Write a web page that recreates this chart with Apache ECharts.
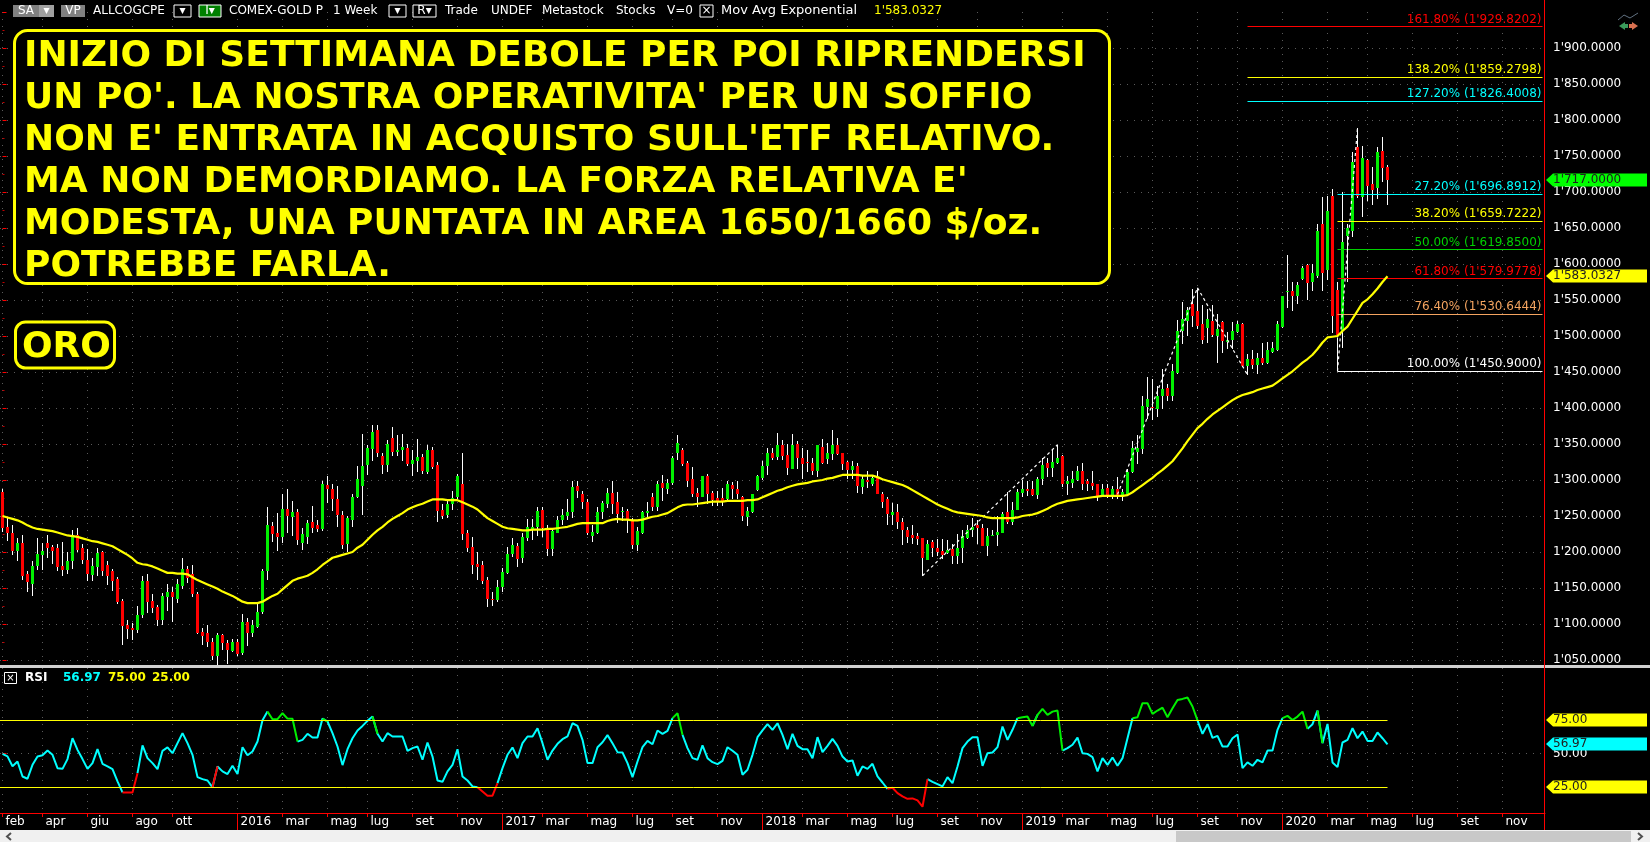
<!DOCTYPE html>
<html>
<head>
<meta charset="utf-8">
<title>ORO</title>
<script src="https://cdn.jsdelivr.net/npm/echarts@6/dist/echarts.min.js"></script>
<style>
  html, body { margin: 0; padding: 0; background: #000; overflow: hidden; }
  #chart { width: 1650px; height: 842px; }
</style>
</head>
<body>
<div id="chart"></div>
<script>
// weekly bars: [open, close, low, high]
const candles = [
  [1283,1233,1227,1287],[1235,1227,1215,1248],[1227,1202,1196,1237],[1202,1213,1188,1220],[1213,1167,1160,1223],
  [1169,1158,1145,1174],[1156,1181,1139,1188],[1181,1197,1176,1220],[1196,1201,1176,1213],[1213,1206,1192,1224],
  [1207,1202,1183,1210],[1205,1179,1173,1211],[1180,1175,1167,1214],[1175,1187,1169,1200],[1188,1223,1176,1230],
  [1223,1203,1200,1233],[1205,1189,1183,1211],[1189,1169,1160,1204],[1168,1181,1160,1192],[1179,1199,1167,1206],
  [1200,1173,1166,1201],[1182,1166,1155,1188],[1173,1160,1145,1176],[1162,1130,1128,1165],[1132,1097,1071,1135],
  [1098,1093,1079,1105],[1095,1092,1078,1102],[1092,1113,1087,1125],[1112,1160,1108,1167],[1160,1131,1115,1169],
  [1132,1122,1115,1142],[1123,1106,1097,1126],[1106,1139,1099,1143],[1137,1145,1118,1156],[1145,1137,1102,1151],
  [1135,1156,1129,1162],[1153,1177,1149,1192],[1176,1164,1158,1181],[1169,1141,1137,1182],[1141,1087,1086,1144],
  [1089,1083,1071,1094],[1088,1075,1068,1098],[1075,1055,1050,1081],[1055,1085,1044,1088],[1085,1073,1064,1086],
  [1073,1064,1045,1078],[1063,1075,1061,1079],[1075,1059,1055,1079],[1060,1103,1057,1114],[1103,1087,1070,1109],
  [1088,1098,1081,1105],[1096,1117,1095,1128],[1116,1174,1114,1176],[1173,1238,1162,1263],[1236,1225,1213,1241],
  [1227,1221,1201,1254],[1221,1260,1213,1281],[1260,1250,1226,1287],[1249,1256,1223,1271],[1255,1216,1210,1260],
  [1213,1225,1204,1234],[1221,1240,1211,1244],[1242,1234,1227,1264],[1237,1232,1227,1244],[1232,1294,1230,1299],
  [1293,1288,1269,1306],[1287,1273,1257,1294],[1273,1252,1234,1291],[1252,1210,1204,1257],[1211,1247,1200,1250],
  [1244,1277,1235,1281],[1277,1301,1275,1319],[1292,1319,1252,1364],[1321,1345,1307,1349],[1343,1367,1327,1377],
  [1369,1337,1332,1377],[1334,1321,1309,1338],[1321,1350,1311,1355],[1358,1339,1334,1374],[1339,1342,1334,1363],
  [1342,1346,1327,1364],[1344,1322,1319,1350],[1322,1328,1305,1341],[1327,1332,1311,1357],[1332,1312,1308,1336],
  [1311,1341,1308,1348],[1341,1318,1315,1346],[1321,1257,1242,1325],[1258,1250,1246,1267],[1251,1267,1248,1274],
  [1267,1275,1258,1285],[1276,1305,1274,1309],[1294,1225,1217,1338],[1227,1206,1200,1230],[1207,1182,1169,1221],
  [1183,1179,1161,1200],[1182,1160,1156,1188],[1161,1135,1123,1165],[1135,1134,1125,1144],[1134,1152,1131,1161],
  [1151,1172,1145,1178],[1171,1197,1169,1207],[1197,1210,1192,1219],[1208,1190,1179,1213],[1191,1221,1185,1227],
  [1220,1235,1216,1246],[1230,1235,1217,1246],[1235,1257,1223,1263],[1259,1234,1221,1263],[1234,1204,1194,1237],
  [1204,1229,1195,1232],[1227,1244,1226,1250],[1244,1252,1238,1260],[1250,1256,1244,1273],[1255,1290,1247,1299],
  [1292,1285,1274,1298],[1280,1269,1260,1285],[1270,1226,1224,1274],[1222,1228,1213,1237],[1227,1256,1226,1263],
  [1256,1268,1246,1271],[1266,1282,1261,1289],[1282,1267,1253,1299],[1270,1253,1240,1283],[1255,1257,1243,1262],
  [1257,1244,1227,1260],[1244,1210,1204,1247],[1210,1229,1202,1235],[1226,1255,1225,1257],[1254,1257,1245,1269],
  [1277,1263,1257,1282],[1263,1294,1256,1298],[1296,1289,1271,1307],[1288,1296,1280,1301],[1296,1330,1294,1334],
  [1338,1351,1328,1363],[1342,1322,1319,1344],[1324,1299,1291,1327],[1301,1281,1276,1318],[1282,1277,1262,1289],
  [1277,1306,1277,1306],[1306,1281,1267,1308],[1282,1272,1264,1285],[1275,1271,1264,1285],[1275,1271,1264,1289],
  [1273,1294,1272,1298],[1293,1287,1274,1297],[1288,1281,1274,1299],[1277,1250,1243,1278],[1248,1257,1237,1263],
  [1256,1280,1255,1281],[1286,1305,1285,1307],[1303,1320,1301,1327],[1320,1338,1307,1344],[1337,1330,1327,1344],
  [1332,1349,1327,1365],[1349,1334,1328,1356],[1335,1317,1307,1350],[1315,1349,1315,1364],[1350,1330,1315,1354],
  [1331,1322,1302,1345],[1325,1323,1311,1342],[1324,1313,1307,1331],[1312,1348,1305,1349],[1346,1324,1322,1357],
  [1329,1337,1322,1351],[1336,1349,1328,1370],[1349,1336,1334,1358],[1337,1322,1314,1337],[1325,1314,1301,1326],
  [1314,1319,1301,1326],[1320,1291,1281,1323],[1290,1301,1280,1307],[1300,1297,1289,1312],[1294,1303,1291,1305],
  [1304,1281,1280,1312],[1281,1270,1261,1283],[1273,1253,1237,1276],[1252,1256,1237,1268],[1256,1241,1232,1267],
  [1241,1231,1209,1247],[1231,1221,1213,1235],[1223,1220,1212,1238],[1222,1218,1211,1227],[1219,1191,1167,1220],
  [1189,1211,1188,1216],[1214,1206,1193,1216],[1206,1200,1194,1218],[1201,1196,1190,1218],[1199,1203,1196,1216],
  [1204,1194,1183,1211],[1194,1206,1184,1225],[1205,1222,1184,1230],[1220,1230,1218,1237],[1230,1235,1221,1247],
  [1237,1233,1211,1244],[1234,1209,1208,1239],[1208,1222,1195,1234],[1223,1224,1221,1230],[1223,1228,1209,1250],
  [1227,1253,1226,1255],[1256,1241,1238,1283],[1241,1259,1238,1270],[1259,1284,1258,1287],[1282,1287,1277,1300],
  [1288,1285,1278,1299],[1288,1279,1278,1299],[1279,1302,1274,1304],[1301,1321,1293,1331],[1323,1317,1305,1331],
  [1317,1325,1304,1341],[1324,1331,1323,1349],[1333,1294,1290,1335],[1294,1299,1280,1306],[1296,1302,1290,1313],
  [1300,1313,1299,1320],[1313,1295,1286,1324],[1298,1295,1284,1301],[1296,1292,1286,1313],[1294,1277,1271,1294],
  [1278,1288,1276,1294],[1289,1278,1274,1294],[1279,1287,1274,1292],[1288,1278,1274,1304],[1276,1284,1271,1287],
  [1281,1311,1280,1315],[1311,1345,1309,1354],[1339,1345,1322,1362],[1343,1403,1336,1416],[1402,1413,1385,1443],
  [1402,1401,1383,1440],[1399,1417,1387,1430],[1416,1427,1399,1454],[1428,1417,1410,1433],[1417,1452,1410,1461],
  [1449,1507,1447,1522],[1507,1524,1488,1547],[1521,1536,1500,1540],[1544,1528,1512,1565],[1535,1514,1510,1567],
  [1517,1495,1489,1543],[1511,1524,1490,1537],[1521,1502,1499,1543],[1500,1510,1463,1531],[1519,1493,1477,1521],
  [1491,1494,1482,1505],[1495,1507,1482,1520],[1506,1517,1505,1521],[1517,1459,1457,1518],[1459,1468,1446,1475],
  [1468,1460,1454,1480],[1460,1470,1448,1477],[1470,1463,1459,1490],[1463,1481,1461,1491],[1478,1483,1476,1491],
  [1481,1516,1480,1521],[1513,1555,1512,1556],[1562,1563,1539,1613],[1563,1556,1535,1575],[1556,1571,1544,1575],
  [1579,1594,1577,1597],[1598,1573,1550,1600],[1575,1587,1563,1600],[1584,1646,1581,1656],[1656,1587,1563,1693],
  [1592,1674,1577,1694],[1694,1528,1504,1704],[1564,1501,1498,1575],[1507,1631,1484,1700],[1639,1650,1575,1656],
  [1646,1741,1637,1755],[1762,1694,1692,1789],[1693,1747,1665,1764],[1745,1709,1688,1746],[1711,1703,1682,1735],
  [1705,1755,1690,1762],[1757,1734,1714,1776],[1735,1717,1682,1738]
]

// Mov Avg Exponential
const maValues = [
  1250,1248,1246,1244,1241,1237,1234,1232,1231,1230,1229,1227,1225,1223,1222,1221,1219,1217,1215,1214,
  1212,1210,1208,1204,1200,1196,1191,1185,1183,1182,1180,1177,1174,1171,1171,1170,1170,1169,1165,1161,
  1158,1155,1152,1149,1145,1142,1139,1135,1131,1129,1129,1129,1131,1135,1139,1142,1148,1154,1160,1163,
  1165,1167,1171,1176,1182,1187,1192,1194,1196,1198,1200,1206,1210,1217,1224,1230,1235,1241,1246,1250,
  1254,1259,1262,1265,1267,1270,1273,1273,1273,1272,1272,1272,1269,1266,1263,1259,1253,1247,1243,1239,
  1235,1233,1232,1231,1230,1230,1231,1231,1231,1232,1232,1233,1234,1235,1237,1239,1240,1240,1240,1240,
  1240,1243,1245,1246,1245,1245,1244,1244,1245,1247,1249,1250,1252,1254,1258,1262,1265,1266,1266,1267,
  1268,1269,1270,1270,1270,1271,1271,1271,1271,1272,1272,1273,1276,1279,1282,1285,1287,1290,1292,1294,
  1295,1296,1298,1299,1300,1302,1303,1305,1307,1307,1307,1307,1306,1306,1306,1304,1301,1299,1297,1295,
  1293,1290,1286,1282,1278,1274,1270,1266,1263,1260,1257,1255,1254,1253,1252,1251,1250,1248,1247,1247,
  1247,1247,1247,1248,1250,1251,1252,1254,1257,1260,1264,1267,1269,1271,1272,1273,1274,1275,1276,1277,
  1278,1278,1278,1278,1278,1279,1283,1288,1293,1298,1303,1309,1314,1320,1326,1335,1344,1354,1363,1372,
  1378,1385,1391,1396,1401,1406,1411,1415,1418,1420,1422,1425,1427,1429,1431,1436,1441,1446,1451,1457,
  1463,1468,1474,1482,1491,1498,1499,1500,1507,1513,1524,1535,1546,1551,1558,1566,1575,1583.0327
]

const rsiValues = [
  49.8,47.9,40.6,44.1,32.9,31.2,41.6,47.9,48.8,52.3, 49.1,39.1,38.6,45.9,61.5,52.8,45.9,38.6,42.9,53.3,
  42.4,40.4,38.4,29.2,21,21,21,35.4,56.1,46.6, 42.9,38.4,52.1,54.6,50.3,57.8,65.3,57.8,49.1,32.4,
  30.9,29.9,24.8,40.4,36.7,34.7,40.9,34.7,54.8,48.8, 51.6,59,74.9,81.4,75.7,75.7,80.2,76.2,76,59,
  60.3,64.8,62,62,76.2,74,65.3,55.3,41.4,53.3, 61.5,67.3,70.7,74.5,77.7,64.8,59,65.3,62.8,62.8,
  62.8,52.1,54.1,55.3,45.4,58.3,47.8,29.9,28.9,36.7, 41.6,53.3,32.9,29.9,25.5,24.9,21.7,18.5,18.5,27.9,
  39.1,49.1,54.6,46.6,57.8,62.8,62.8,69,57.8,45.4, 52.3,57.3,60.8,62.8,72.7,70.7,60.3,42.9,42.9,54.8,
  58.5,63.8,57.8,51.1,50.8,42.9,32.4,44.1,54.8,59.5, 57,67.3,64.8,67,76.5,80.2,64,54.1,46.6,45.4,
  56.1,46.6,43.6,42.1,44.6,54.8,52.1,49.1,34.2,37.9, 49.1,62.3,67.3,72,67.8,72.7,64,53.3,64.8,55.8,
  53.3,53.3,46.6,62.3,51.1,55.8,61,55.8,47.8,44.1, 44.9,33.4,40.4,38.6,42.4,32.9,28.4,23.7,24.5,20.5,
  18,16.2,16.5,15,10.3,30.9,28.9,27.2,25.5,32.4, 27.9,40.4,54.1,59,62.3,62.3,40.9,50.3,50.8,54.8,
  70.2,60.3,67.8,76.5,77.2,77.7,70.7,79,83.4,79, 81.4,82.2,52.3,54.1,56.6,62,50.3,49.8,47.4,36.7,
  46.6,41.6,47.1,40.9,46.6,61.5,76.5,77.2,87.7,87.7, 79.7,82.2,84.4,77.2,83.9,90.1,90.9,91.9,85.2,74.9,
  64.8,72,61.8,63.3,55.3,55.3,61.5,64.3,39.1,43.4, 40.9,45.4,43.4,52.3,52.3,67.8,76.5,78.2,75.1,77.7,
  81.4,68.5,72,82.2,57.8,72.2,43.4,39.9,58.3,60.3, 69,61.5,66.5,59.5,59.5,65.8,61.5,56.97
]

// week index of each tick on the time axis
const monthTicks = [0,8,17,26,34,47,56,65,73,82,91,100,108,117,126,134,143,152,160,169,178,187,195,204,212,221,230,239,247,256,265,273,282,291,300]
const monthLabels = ['feb','apr','giu','ago','ott','2016','mar','mag','lug','set','nov','2017','mar','mag','lug','set','nov','2018','mar','mag','lug','set','nov','2019','mar','mag','lug','set','nov','2020','mar','mag','lug','set','nov']
const yearTicks = [47,100,152,204,256]

const fibPercents = ['161.80%','138.20%','127.20%','27.20%','38.20%','50.00%','61.80%','76.40%','100.00%']
const fibValues = [1929.8202,1859.2798,1826.4008,1696.8912,1659.7222,1619.85,1579.9778,1530.6444,1450.9]
const fibStart = [249,249,249,267,267,267,267,267,267]
const fibColors = ['#ff0000','#ffff00','#00ffff','#00ffff','#ffff00','#00d000','#ff0000','#f4a460','#ffffff']

// dashed swing lines: [from week, from price, to week, to price]
const swingLines = [
  [184,1167,211,1349],
  [223,1280,239,1567],
  [239,1567,249,1446],
  [267,1451,271,1789]
]

const noteLines = [
  'INIZIO DI SETTIMANA DEBOLE PER POI RIPRENDERSI',
  "UN PO'. LA NOSTRA OPERATIVITA' PER UN SOFFIO",
  "NON E' ENTRATA IN ACQUISTO SULL'ETF RELATIVO.",
  "MA NON DEMORDIAMO. LA FORZA RELATIVA E'",
  'MODESTA, UNA PUNTATA IN AREA 1650/1660 $/oz.',
  'POTREBBE FARLA.'
]

const FONT = '"DejaVu Sans", sans-serif'
const UP = '#00f000'
const DOWN = '#ff0000'
const GRID_DOTS = { color: '#5a5a5a', width: 1, type: [1, 6] }

// price with the apostrophe thousands mark used by the platform
function fmtPrice(v) {
  const s = v.toFixed(4)
  return s.length >= 9 ? s.slice(0, s.length - 8) + "'" + s.slice(s.length - 8) : s
}

function renderCandle(params, api) {
  const i = api.value(0)
  const open = api.coord([i, api.value(1)])
  const close = api.coord([i, api.value(2)])
  const low = api.coord([i, api.value(3)])
  const high = api.coord([i, api.value(4)])
  const x = Math.floor(open[0])
  const top = Math.round(Math.min(open[1], close[1]))
  const bottom = Math.round(Math.max(open[1], close[1]))
  const isUp = api.value(2) >= api.value(1)
  return {
    type: 'group',
    children: [
      { type: 'rect', shape: { x: x, y: Math.round(high[1]), width: 1, height: Math.round(low[1] - high[1]) }, style: { fill: '#ffffff' } },
      { type: 'rect', shape: { x: x - 1, y: top, width: 3, height: Math.max(bottom - top, 1) }, style: { fill: isUp ? UP : DOWN } }
    ]
  }
}

// the RSI line changes colour by the zone of each segment's first point
function rsiZone(band) {
  const out = rsiValues.map(() => null)
  for (let i = 0; i < rsiValues.length - 1; i++) {
    const v = rsiValues[i]
    const zone = v > 75 ? 'high' : v < 25 ? 'low' : 'mid'
    if (zone === band) {
      out[i] = [i, v]
      out[i + 1] = [i + 1, rsiValues[i + 1]]
    }
  }
  return out
}

function rsiSeries(band, color) {
  return {
    type: 'line', xAxisIndex: 1, yAxisIndex: 1, data: rsiZone(band), showSymbol: false,
    connectNulls: false, lineStyle: { color: color, width: 2 }, silent: true, z: 4
  }
}

const fibMarks = fibValues.map((v, i) => [
  {
    coord: [fibStart[i], v],
    lineStyle: { color: fibColors[i], width: 1, type: 'solid' },
    label: {
      show: true, position: 'insideEndTop', distance: 1, color: fibColors[i],
      fontFamily: FONT, fontSize: 12, formatter: fibPercents[i] + ' (' + fmtPrice(v) + ')'
    }
  },
  { coord: [308, v] }
])
const swingMarks = swingLines.map(s => [
  { coord: [s[0], s[1]], lineStyle: { color: '#ffffff', width: 1.2, type: [3, 3] }, label: { show: false } },
  { coord: [s[2], s[3]] }
])
// left side of the retracement box
const fibBoxMark = [
  { coord: [267, 1450.9], lineStyle: { color: '#ffffff', width: 1, type: 'solid' }, label: { show: false } },
  { coord: [267, 1498] }
]

function headerText(x, text, color, size) {
  return {
    type: 'text', x: x, y: 11, z: 20,
    style: { text: text, fill: color || '#ffffff', font: (size || 12) + 'px ' + FONT, textVerticalAlign: 'middle' }
  }
}
function chip(x, w, fill, label, stroke) {
  return {
    type: 'group', z: 20,
    children: [
      { type: 'rect', z: 20, shape: { x: x, y: 5, width: w, height: 12 }, style: { fill: fill, stroke: stroke || null, lineWidth: 1 } },
      { type: 'text', z: 21, x: x + w / 2, y: 11, style: { text: label, fill: '#ffffff', font: '12px ' + FONT, textAlign: 'center', textVerticalAlign: 'middle' } }
    ]
  }
}

const chrome = [
  chip(13, 26, '#808080', 'SA'),
  chip(39, 15, '#a0a0a0', '\u25be'),
  chip(61, 24, '#808080', 'VP'),
  headerText(93, 'ALLCOGCPE'),
  chip(174, 17, '#000000', '\u25be', '#ffffff'),
  chip(199, 22, '#008000', 'I\u25be', '#ffffff'),
  headerText(229, 'COMEX-GOLD P'),
  headerText(333, '1 Week'),
  chip(389, 17, '#000000', '\u25be', '#ffffff'),
  chip(413, 23, '#000000', 'R\u25be', '#ffffff'),
  headerText(445, 'Trade'),
  headerText(491, 'UNDEF'),
  headerText(542, 'Metastock'),
  headerText(616, 'Stocks'),
  headerText(667, 'V=0'),
  chip(700, 13, '#000000', '\u00d7', '#ffffff'),
  headerText(721, 'Mov Avg Exponential', '#ffffff', 13),
  headerText(874, "1'583.0327", '#ffff00'),

  // note boxes
  { type: 'rect', z: 30, shape: { x: 14.5, y: 30.5, width: 1095, height: 253, r: 13 }, style: { fill: '#000000', stroke: '#ffff00', lineWidth: 3 } },
  { type: 'rect', z: 30, shape: { x: 15.5, y: 322, width: 99, height: 46, r: 10 }, style: { fill: '#000000', stroke: '#ffff00', lineWidth: 3 } },
  { type: 'text', z: 31, x: 22, y: 348, style: { text: 'ORO', fill: '#ffff00', font: 'bold 36px ' + FONT, textVerticalAlign: 'middle' } },

  // window frame
  { type: 'rect', z: 10, shape: { x: 0, y: 665, width: 1650, height: 3 }, style: { fill: '#d0d0d0' } },
  { type: 'rect', z: 10, shape: { x: 1544, y: 0, width: 1, height: 830 }, style: { fill: '#ff0000' } },
  { type: 'rect', z: 10, shape: { x: 0, y: 830, width: 1650, height: 12 }, style: { fill: '#f0f0f0' } },
  { type: 'rect', z: 11, shape: { x: 1176, y: 831, width: 455, height: 11 }, style: { fill: '#c8c8c8' } },
  { type: 'polyline', z: 11, shape: { points: [[11, 833], [7, 836.5], [11, 840]] }, style: { stroke: '#505050', lineWidth: 2, fill: null } },
  { type: 'polyline', z: 11, shape: { points: [[1638, 833], [1642, 836.5], [1638, 840]] }, style: { stroke: '#505050', lineWidth: 2, fill: null } },

  // RSI header
  { type: 'rect', z: 20, shape: { x: 4.5, y: 672.5, width: 12, height: 11 }, style: { fill: '#000000', stroke: '#ffffff', lineWidth: 1 } },
  { type: 'text', z: 21, x: 10.5, y: 678, style: { text: '\u00d7', fill: '#ffffff', font: '10px ' + FONT, textAlign: 'center', textVerticalAlign: 'middle' } },
  { type: 'text', z: 20, x: 25, y: 678, style: { text: 'RSI', fill: '#ffffff', font: 'bold 12px ' + FONT, textVerticalAlign: 'middle' } },
  { type: 'text', z: 20, x: 63, y: 678, style: { text: '56.97', fill: '#00ffff', font: 'bold 12px ' + FONT, textVerticalAlign: 'middle' } },
  { type: 'text', z: 20, x: 108, y: 678, style: { text: '75.00', fill: '#ffff00', font: 'bold 12px ' + FONT, textVerticalAlign: 'middle' } },
  { type: 'text', z: 20, x: 152, y: 678, style: { text: '25.00', fill: '#ffff00', font: 'bold 12px ' + FONT, textVerticalAlign: 'middle' } },

  // small nav icon, top right
  { type: 'polyline', z: 20, shape: { points: [[1618, 20], [1624, 15], [1630, 18], [1638, 13]] }, style: { stroke: '#607080', lineWidth: 1, fill: null } },
  { type: 'polygon', z: 20, shape: { points: [[1619, 26], [1625, 22], [1625, 24], [1628, 24], [1628, 28], [1625, 28], [1625, 30]] }, style: { fill: '#3a9a5a' } },
  { type: 'polygon', z: 20, shape: { points: [[1638, 26], [1632, 22], [1632, 24], [1629, 24], [1629, 28], [1632, 28], [1632, 30]] }, style: { fill: '#d87050' } }
]
noteLines.forEach((line, i) => {
  chrome.push({
    type: 'text', z: 31, x: 24, y: 57 + i * 42,
    style: { text: line, fill: '#ffff00', font: 'bold 36px ' + FONT, textVerticalAlign: 'middle' }
  })
})

const chart = echarts.init(document.getElementById('chart'))

const option = {
  animation: false,
  backgroundColor: '#000000',
  grid: [
    { left: 0, width: 1545, top: 12, height: 648 },
    { left: 0, width: 1545, top: 668, height: 145 }
  ],
  xAxis: [
    {
      gridIndex: 0, type: 'value', min: -0.5, max: 308.5,
      axisLine: { show: false }, axisLabel: { show: false },
      axisTick: { show: false, customValues: monthTicks },
      splitLine: { show: true, lineStyle: GRID_DOTS }
    },
    {
      gridIndex: 1, type: 'value', min: -0.5, max: 308.5,
      axisLine: { show: true, onZero: false, lineStyle: { color: '#ff0000' } },
      axisTick: { show: true, length: 4, lineStyle: { color: '#ff0000' }, customValues: monthTicks },
      axisLabel: {
        show: true, customValues: monthTicks, align: 'left', margin: 3, padding: [0, 0, 0, 3],
        color: '#ffffff', fontFamily: FONT, fontSize: 12,
        formatter: v => monthLabels[monthTicks.indexOf(v)]
      },
      splitLine: { show: true, lineStyle: GRID_DOTS }
    },
    {
      // longer ticks at the year changes
      gridIndex: 1, type: 'value', min: -0.5, max: 308.5, position: 'bottom',
      axisLine: { show: false }, axisLabel: { show: false }, splitLine: { show: false },
      axisTick: { show: true, length: 17, lineStyle: { color: '#ff0000' }, customValues: yearTicks }
    }
  ],
  yAxis: [
    {
      gridIndex: 0, type: 'value', min: 1050, max: 1950, interval: 50, position: 'right',
      axisLine: { show: false },
      axisTick: { show: true, length: 4, lineStyle: { color: '#ff0000' } },
      axisLabel: { color: '#ffffff', fontFamily: FONT, fontSize: 12, margin: 8, showMaxLabel: false, formatter: v => fmtPrice(v) },
      minorTick: { show: true, splitNumber: 2, length: 2, lineStyle: { color: '#c00000' } },
      splitLine: { show: true, showMaxLine: false, lineStyle: GRID_DOTS }
    },
    {
      gridIndex: 1, type: 'value', min: 5.6, max: 114, position: 'right',
      axisLine: { show: false },
      axisTick: { show: true, length: 4, lineStyle: { color: '#ff0000' }, customValues: [50] },
      axisLabel: { color: '#ffffff', fontFamily: FONT, fontSize: 12, margin: 8, customValues: [50], formatter: v => v.toFixed(2) },
      splitLine: { show: true, lineStyle: GRID_DOTS }
    }
  ],
  series: [
    {
      type: 'custom', xAxisIndex: 0, yAxisIndex: 0, renderItem: renderCandle, silent: true, z: 3,
      encode: { x: 0, y: [1, 2, 3, 4] },
      data: candles.map((c, i) => [i, c[0], c[1], c[2], c[3]])
    },
    {
      type: 'line', xAxisIndex: 0, yAxisIndex: 0, showSymbol: false, silent: true, z: 5,
      data: maValues.map((v, i) => [i, v]),
      lineStyle: { color: '#ffff00', width: 2.2 },
      markLine: {
        silent: true, symbol: ['none', 'none'], animation: false, precision: 4, z: 4,
        data: fibMarks.concat(swingMarks, [fibBoxMark])
      }
    },
    rsiSeries('mid', '#00ffff'),
    rsiSeries('high', UP),
    rsiSeries('low', DOWN),
    {
      // overbought and oversold levels, drawn up to the last bar
      type: 'line', xAxisIndex: 1, yAxisIndex: 1, data: [], silent: true,
      markLine: {
        silent: true, symbol: ['none', 'none'], animation: false, label: { show: false },
        lineStyle: { color: '#ffff00', width: 1, type: 'solid' },
        data: [
          [{ coord: [-0.5, 75] }, { coord: [277, 75] }],
          [{ coord: [-0.5, 25] }, { coord: [277, 25] }]
        ]
      }
    }
  ],
  graphic: chrome
}
chart.setOption(option)

// price tags on the axes, placed from the values through the axes' own scales
function axisTag(axisIndex, value, text, fill) {
  const y = Math.round(chart.convertToPixel({ yAxisIndex: axisIndex }, value))
  return [
    {
      type: 'polygon', z: 25,
      shape: { points: [[1546, y], [1553, y - 6.5], [1647, y - 6.5], [1647, y + 6.5], [1553, y + 6.5]] },
      style: { fill: fill }
    },
    {
      type: 'text', z: 26, x: 1553, y: y,
      style: { text: text, fill: '#202020', font: '12px ' + FONT, textVerticalAlign: 'middle' }
    }
  ]
}
chart.setOption({
  graphic: chrome.concat(
    axisTag(0, 1717, "1'717.0000", '#00ff00'),
    axisTag(0, 1583.0327, "1'583.0327", '#ffff00'),
    axisTag(1, 75, '75.00', '#ffff00'),
    axisTag(1, 56.97, '56.97', '#00ffff'),
    axisTag(1, 25, '25.00', '#ffff00')
  )
})

window.addEventListener('resize', () => chart.resize())
</script>
</body>
</html>
